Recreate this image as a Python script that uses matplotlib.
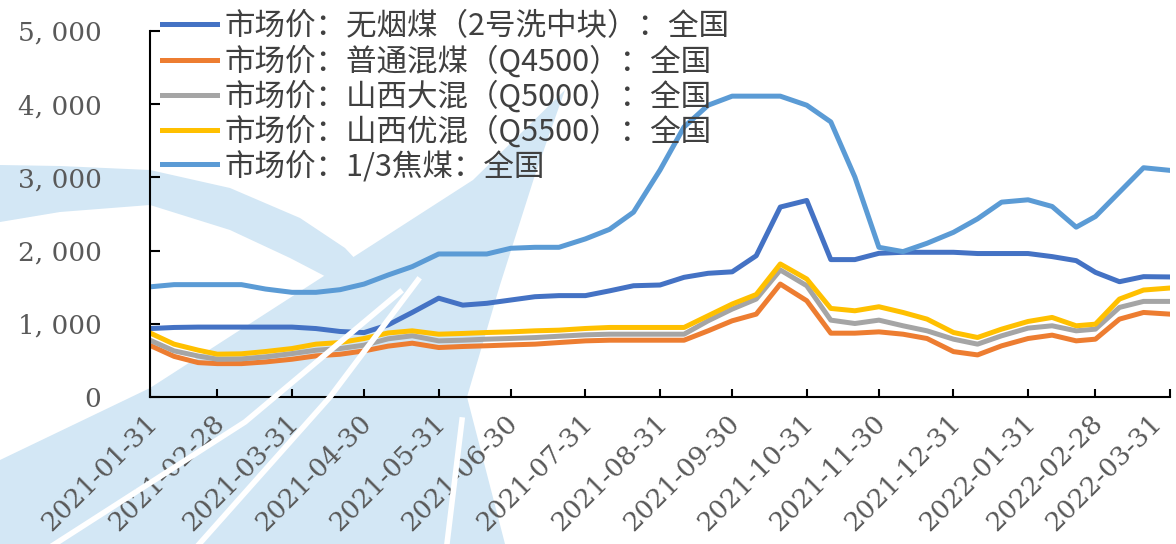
import matplotlib
matplotlib.use("Agg")
import matplotlib.pyplot as plt
import matplotlib.ticker as mticker
import matplotlib.transforms as mtrans
import pandas as pd
from matplotlib.patches import Polygon
from matplotlib.lines import Line2D

W, H = 1176, 544

# dekad price data, yuan/ton
dates = [
    "2021-01-31", "2021-02-10", "2021-02-20", "2021-02-28", "2021-03-10", "2021-03-20",
    "2021-03-31", "2021-04-10", "2021-04-20", "2021-04-30", "2021-05-10", "2021-05-20",
    "2021-05-31", "2021-06-10", "2021-06-20", "2021-06-30", "2021-07-10", "2021-07-20",
    "2021-07-31", "2021-08-10", "2021-08-20", "2021-08-31", "2021-09-10", "2021-09-20",
    "2021-09-30", "2021-10-10", "2021-10-20", "2021-10-31", "2021-11-10", "2021-11-20",
    "2021-11-30", "2021-12-10", "2021-12-20", "2021-12-31", "2022-01-10", "2022-01-20",
    "2022-01-31", "2022-02-10", "2022-02-20", "2022-02-28", "2022-03-10", "2022-03-20",
    "2022-03-31",
]
anthracite = [935, 950, 955, 955, 955, 955, 955, 935, 895, 880, 985, 1155, 1350, 1255,
              1280, 1325, 1370, 1385, 1385, 1450, 1520, 1530, 1635, 1690, 1710, 1930,
              2595, 2685, 1877, 1877, 1963, 1977, 1977, 1977, 1960, 1960, 1960, 1918,
              1863, 1703, 1575, 1644, 1640]
mixed_q4500 = [705, 555, 470, 456, 456, 479, 516, 562, 584, 630, 695, 735, 676, 690,
               700, 712, 722, 744, 767, 776, 776, 776, 776, 904, 1041, 1132, 1543, 1315,
               872, 872, 890, 858, 799, 620, 575, 699, 799, 845, 767, 790, 1064, 1155, 1132]
shanxi_q5000 = [776, 630, 560, 516, 520, 548, 593, 639, 662, 708, 795, 836, 767, 776,
                790, 800, 812, 830, 849, 858, 858, 858, 858, 1041, 1201, 1338, 1735, 1520,
                1050, 1004, 1050, 973, 904, 790, 722, 836, 941, 973, 904, 927, 1224, 1306, 1306]
shanxi_q5500 = [875, 722, 640, 585, 590, 621, 662, 722, 744, 799, 875, 904, 858, 868,
                881, 890, 904, 913, 936, 950, 950, 950, 950, 1110, 1270, 1400, 1817, 1612,
                1210, 1178, 1233, 1155, 1064, 881, 813, 927, 1032, 1087, 973, 995, 1338,
                1461, 1489]
coking_13 = [1505, 1535, 1535, 1535, 1535, 1475, 1430, 1430, 1466, 1543, 1667, 1781, 1954,
             1954, 1954, 2032, 2045, 2045, 2160, 2290, 2525, 3100, 3689, 3986, 4110, 4110,
             4110, 3986, 3758, 3005, 2045, 1986, 2100, 2250, 2434, 2662, 2694, 2603, 2320,
             2466, 2799, 3132, 3096]

series = [anthracite, mixed_q4500, shanxi_q5000, shanxi_q5500, coking_13]
labels = [
    "市场价：无烟煤（2号洗中块）：全国",
    "市场价：普通混煤（Q4500）：全国",
    "市场价：山西大混（Q5000）：全国",
    "市场价：山西优混（Q5500）：全国",
    "市场价：1/3焦煤：全国",
]
colors = ["#4472C4", "#ED7D31", "#A5A5A5", "#FFC000", "#5B9BD5"]


def px(points):
    # reference pixel coords (y down) -> figure fraction
    return [(x / W, 1 - y / H) for x, y in points]


fig = plt.figure(figsize=(W / 100, H / 100), dpi=100)

# faint logo watermark behind the chart
wm = "#D3E7F5"
fig.add_artist(Polygon(px([(0, 165), (60, 166), (150, 170), (230, 188), (300, 218),
                           (345, 248), (375, 280), (340, 284), (290, 258), (230, 230),
                           (150, 205), (60, 212), (0, 222)]),
                       closed=True, fc=wm, ec="none", zorder=0))
fig.add_artist(Polygon(px([(0, 460), (150, 388), (473, 180), (565, 90), (535, 175),
                           (500, 285), (467, 397), (505, 544), (0, 544)]),
                       closed=True, fc=wm, ec="none", zorder=0))
for pts in [[(30, 560), (245, 422), (400, 292)],
            [(185, 560), (330, 397), (418, 280)],
            [(445, 560), (462, 420)]]:
    xs, ys = zip(*px(pts))
    fig.add_artist(Line2D(xs, ys, color="white", lw=4, zorder=0.5))

ax = fig.add_axes([150 / W, 1 - 397 / H, 1020 / W, 366 / H])
ax.patch.set_alpha(0)

x = pd.to_datetime(dates)
handles = []
for vals, lab, col in zip(series, labels, colors):
    h, = ax.plot(x, vals, color=col, lw=3.6, label=lab)
    handles.append(h)

ax.set_xlim(pd.Timestamp("2021-01-31"), pd.Timestamp("2022-03-31"))
ax.set_ylim(0, 5000)

# month-end ticks; labels placed as free texts so the last one can be nudged inside
month_ends = pd.date_range("2021-01-31", "2022-03-31", freq="ME")
ax.set_xticks(month_ends)
ax.set_xticklabels([])
for i, d in enumerate(month_ends):
    dx = -12 if i == len(month_ends) - 1 else 3
    off = mtrans.ScaledTranslation(dx / 100, -22 / 100, fig.dpi_scale_trans)
    ax.text(d, 0, d.strftime("%Y-%m-%d"), transform=ax.get_xaxis_transform() + off,
            rotation=45, ha="right", va="center", rotation_mode="anchor",
            family="DejaVu Serif", fontsize=19, color="#595959", clip_on=False)

ax.set_yticks(range(0, 5001, 1000))
ax.yaxis.set_major_formatter(mticker.FuncFormatter(lambda v, p: f"{v:,.0f}".replace(",", ", ")))
for t in ax.get_yticklabels():
    t.set_family("DejaVu Serif")
    t.set_fontsize(19)
    t.set_color("#595959")

ax.tick_params(axis="both", direction="in", color="black", width=1.5)
ax.tick_params(axis="y", length=7, pad=35)
ax.tick_params(axis="x", length=6)

for side in ["top", "right"]:
    ax.spines[side].set_visible(False)
for side in ["left", "bottom"]:
    ax.spines[side].set_linewidth(1.5)
    ax.spines[side].set_color("black")

leg = fig.legend(handles=handles, labels=labels, loc="upper left",
                 bbox_to_anchor=(162 / W, 1 - 11 / H), bbox_transform=fig.transFigure,
                 frameon=False, borderpad=0, borderaxespad=0, handlelength=1.8,
                 handletextpad=0.25, labelspacing=0.09,
                 prop={"family": ["Noto Sans CJK SC", "DejaVu Sans"], "size": 22})
for t in leg.get_texts():
    t.set_color("#404040")

fig.savefig("out.png", dpi=100)
